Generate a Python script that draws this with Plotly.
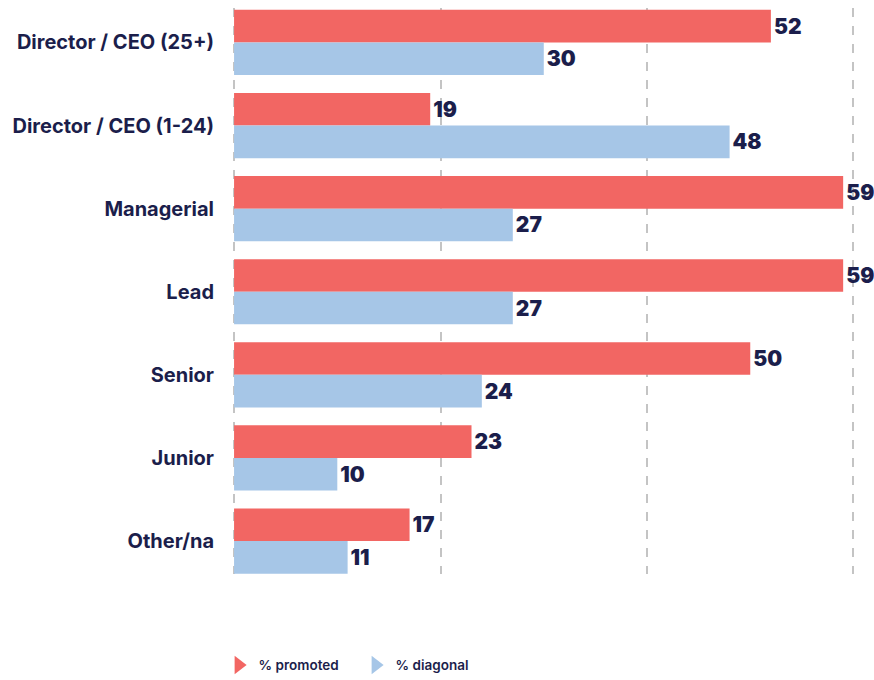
import plotly.graph_objects as go

# Career-level categories, top to bottom
levels = [
    "Director / CEO (25+)",
    "Director / CEO (1-24)",
    "Managerial",
    "Lead",
    "Senior",
    "Junior",
    "Other/na",
]
promoted = [52, 19, 59, 59, 50, 23, 17]
diagonal = [30, 48, 27, 27, 24, 10, 11]
grid_ticks = [0, 20, 40, 60]

RED = "#F26663"
BLUE = "#A6C6E7"
NAVY = "#1B1E4B"
FONT = "Inter"

fig = go.Figure()

for name, vals, color in [("% promoted", promoted, RED), ("% diagonal", diagonal, BLUE)]:
    fig.add_trace(go.Bar(
        y=levels,
        x=vals,
        orientation="h",
        name=name,
        marker=dict(color=color, line=dict(width=0)),
        text=[str(v) for v in vals],
        textposition="outside",
        textfont=dict(family=FONT, size=21, color=NAVY, weight=900),
        cliponaxis=False,
        showlegend=False,
        hoverinfo="skip",
    ))

# Legend entries drawn as pointer-style triangles
for name, color in [("% promoted", RED), ("% diagonal", BLUE)]:
    fig.add_trace(go.Scatter(
        x=[None], y=[None],
        mode="markers",
        name=name,
        marker=dict(symbol="triangle-right", size=26, color=color),
        showlegend=True,
    ))

fig.update_layout(
    width=874,
    height=680,
    margin=dict(l=232, r=4, t=8, b=106, autoexpand=False),
    paper_bgcolor="white",
    plot_bgcolor="white",
    barmode="group",
    bargap=0.215,
    bargroupgap=0.0,
    font=dict(family=FONT, color=NAVY),
    legend=dict(
        orientation="h",
        x=-0.021, xanchor="left",
        y=-0.161, yanchor="middle",
        font=dict(family=FONT, size=13.5, color=NAVY, weight=600),
        itemsizing="trace",
        itemwidth=30,
        entrywidth=92,
        entrywidthmode="pixels",
        traceorder="normal",
    ),
    xaxis=dict(
        range=[-0.2, 61.6],
        tickvals=grid_ticks,
        showticklabels=False,
        showgrid=True,
        gridcolor="#C4C4C4",
        gridwidth=1.5,
        griddash="dash",
        zeroline=False,
        showline=False,
        fixedrange=True,
    ),
    yaxis=dict(
        range=[6.397, -0.415],
        showgrid=False,
        zeroline=False,
        showline=False,
        ticks="",
        ticklabelstandoff=17,
        tickfont=dict(family=FONT, size=20, color=NAVY, weight=700),
        fixedrange=True,
    ),
)

fig.write_html("out.html")
